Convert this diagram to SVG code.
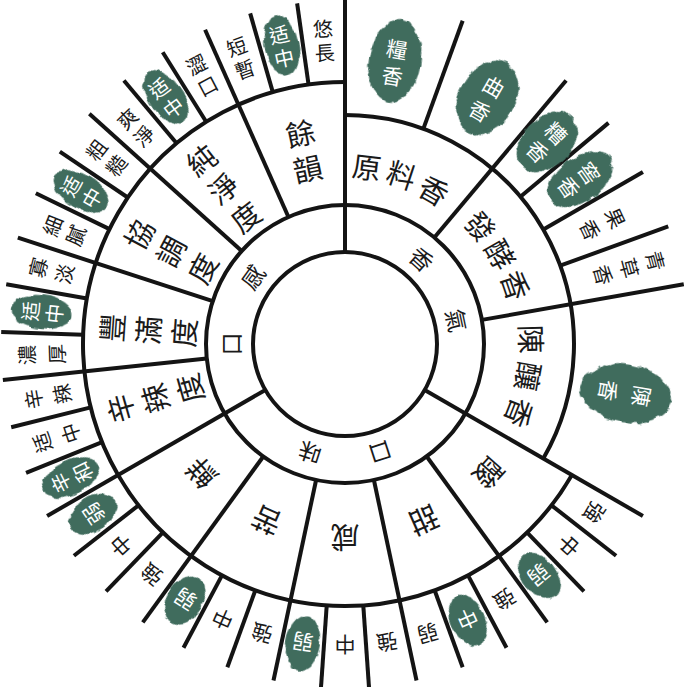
<svg xmlns="http://www.w3.org/2000/svg" width="684" height="687" viewBox="0 0 684 687">
<defs>
<style>
.ln{stroke:#141414;stroke-width:4;fill:none}
.t{font-family:"Noto Sans CJK TC","Noto Sans CJK SC",sans-serif;text-anchor:middle;dominant-baseline:central;fill:#1a1a1a}
.s2{font-size:23px}.s3{font-size:29px}.s4{font-size:20px}.s5{font-size:21px}
.g{fill:#3f6c5d;filter:url(#rough)}
.w{fill:#ffffff}
</style>
<filter id="rough" x="-30%" y="-30%" width="160%" height="160%">
<feTurbulence type="fractalNoise" baseFrequency="0.09" numOctaves="2" seed="4" result="n"/>
<feDisplacementMap in="SourceGraphic" in2="n" scale="7" xChannelSelector="R" yChannelSelector="G"/>
</filter>
</defs>
<rect width="684" height="687" fill="#fff"/>
<g id="connectors">
<circle class="ln" cx="345" cy="344" r="92"/>
<circle class="ln" cx="345" cy="344" r="139"/>
<path class="ln" d="M571.9 475 A262 262 0 1 1 345 82"/>
<path class="ln" d="M345 115 A229 229 0 0 1 543.3 458.5"/>
<line class="ln" x1="345" y1="252" x2="345" y2="0"/>
<line class="ln" x1="345" y1="252" x2="345" y2="0" transform="rotate(120 345 344)"/>
<line class="ln" x1="345" y1="252" x2="345" y2="0" transform="rotate(240 345 344)"/>
<g>
<line class="ln" x1="345" y1="205" x2="345" y2="0" transform="rotate(40 345 344)"/>
<line class="ln" x1="345" y1="205" x2="345" y2="0" transform="rotate(80 345 344)"/>
<line class="ln" x1="345" y1="205" x2="345" y2="0" transform="rotate(144 345 344)"/>
<line class="ln" x1="345" y1="205" x2="345" y2="0" transform="rotate(168 345 344)"/>
<line class="ln" x1="345" y1="205" x2="345" y2="0" transform="rotate(192 345 344)"/>
<line class="ln" x1="345" y1="205" x2="345" y2="0" transform="rotate(216 345 344)"/>
<line class="ln" x1="345" y1="205" x2="345" y2="0" transform="rotate(264 345 344)"/>
<line class="ln" x1="345" y1="205" x2="345" y2="0" transform="rotate(288 345 344)"/>
<line class="ln" x1="345" y1="205" x2="345" y2="0" transform="rotate(312 345 344)"/>
<line class="ln" x1="345" y1="205" x2="345" y2="0" transform="rotate(336 345 344)"/>
</g>
<g>
<line class="ln" x1="345" y1="115" x2="345" y2="0" transform="rotate(20 345 344)"/>
<line class="ln" x1="345" y1="115" x2="345" y2="0" transform="rotate(50 345 344)"/>
<line class="ln" x1="345" y1="115" x2="345" y2="0" transform="rotate(60 345 344)"/>
<line class="ln" x1="345" y1="115" x2="345" y2="0" transform="rotate(70 345 344)"/>
</g>
<g>
<line class="ln" x1="345" y1="82" x2="345" y2="0" transform="rotate(128 345 344)"/>
<line class="ln" x1="345" y1="82" x2="345" y2="0" transform="rotate(136 345 344)"/>
<line class="ln" x1="345" y1="82" x2="345" y2="0" transform="rotate(152 345 344)"/>
<line class="ln" x1="345" y1="82" x2="345" y2="0" transform="rotate(160 345 344)"/>
<line class="ln" x1="345" y1="82" x2="345" y2="0" transform="rotate(176 345 344)"/>
<line class="ln" x1="345" y1="82" x2="345" y2="0" transform="rotate(184 345 344)"/>
<line class="ln" x1="345" y1="82" x2="345" y2="0" transform="rotate(200 345 344)"/>
<line class="ln" x1="345" y1="82" x2="345" y2="0" transform="rotate(208 345 344)"/>
<line class="ln" x1="345" y1="82" x2="345" y2="0" transform="rotate(224 345 344)"/>
<line class="ln" x1="345" y1="82" x2="345" y2="0" transform="rotate(232 345 344)"/>
<line class="ln" x1="345" y1="82" x2="345" y2="0" transform="rotate(248 345 344)"/>
<line class="ln" x1="345" y1="82" x2="345" y2="0" transform="rotate(256 345 344)"/>
<line class="ln" x1="345" y1="82" x2="345" y2="0" transform="rotate(272 345 344)"/>
<line class="ln" x1="345" y1="82" x2="345" y2="0" transform="rotate(280 345 344)"/>
<line class="ln" x1="345" y1="82" x2="345" y2="0" transform="rotate(296 345 344)"/>
<line class="ln" x1="345" y1="82" x2="345" y2="0" transform="rotate(304 345 344)"/>
<line class="ln" x1="345" y1="82" x2="345" y2="0" transform="rotate(320 345 344)"/>
<line class="ln" x1="345" y1="82" x2="345" y2="0" transform="rotate(328 345 344)"/>
<line class="ln" x1="345" y1="82" x2="345" y2="0" transform="rotate(344 345 344)"/>
<line class="ln" x1="345" y1="82" x2="345" y2="0" transform="rotate(352 345 344)"/>
</g>
</g>

<g id="ring2">
<text class="t s2" transform="rotate(42 345 344)" x="345" y="229">香</text>
<text class="t s2" transform="rotate(78 345 344)" x="345" y="229">氣</text>
<text class="t s2" transform="rotate(162 345 344)" x="345" y="229">口</text>
<text class="t s2" transform="rotate(198 345 344)" x="345" y="229">味</text>
<text class="t s2" transform="rotate(270 345 344)" x="345" y="229">口</text>
<text class="t s2" transform="rotate(306 345 344)" x="345" y="229">感</text>
</g>

<g id="aroma-mid">
<text class="t s3" transform="rotate(7 345 344)" x="345" y="164">原</text>
<text class="t s3" transform="rotate(18.5 345 344)" x="345" y="164">料</text>
<text class="t s3" transform="rotate(30 345 344)" x="345" y="165">香</text>
<text class="t s3" transform="rotate(49 345 344)" x="345" y="163">發</text>
<text class="t s3" transform="rotate(60 345 344)" x="345" y="163">酵</text>
<text class="t s3" transform="rotate(71 345 344)" x="345" y="162">香</text>
<text class="t s3" transform="rotate(88.5 345 344)" x="345" y="156">陳</text>
<text class="t s3" transform="rotate(100 345 344)" x="345" y="156">釀</text>
<text class="t s3" transform="rotate(111.5 345 344)" x="345" y="155">香</text>
</g>

<g id="taste-mid">
<text class="t s3" transform="rotate(132 345 344)" x="345" y="149">酸</text>
<text class="t s3" transform="rotate(156 345 344)" x="345" y="149">甜</text>
<text class="t s3" transform="rotate(180 345 344)" x="345" y="149">咸</text>
<text class="t s3" transform="rotate(204 345 344)" x="345" y="149">苦</text>
<text class="t s3" transform="rotate(228 345 344)" x="345" y="149">鮮</text>
</g>

<g id="mouth-mid">
<g transform="rotate(348 345 344)"><text class="t s3" x="345" y="127">餘</text><text class="t s3" x="345" y="163">韻</text></g>
<g transform="rotate(322 345 344)"><text class="t s3" x="345" y="109">純</text><text class="t s3" x="345" y="145">淨</text><text class="t s3" x="345" y="181">度</text></g>
<g transform="rotate(298 345 344)"><text class="t s3" x="345" y="109">協</text><text class="t s3" x="345" y="145">調</text><text class="t s3" x="345" y="181">度</text></g>
<g transform="rotate(274 345 344)"><text class="t s3" x="345" y="109">豐</text><text class="t s3" x="345" y="145">滿</text><text class="t s3" x="345" y="181">度</text></g>
<g transform="rotate(254 345 344)"><text class="t s3" x="345" y="109">辛</text><text class="t s3" x="345" y="145">辣</text><text class="t s3" x="345" y="181">度</text></g>
</g>

<g id="aroma-outer">
<g transform="rotate(10 345 344)"><ellipse class="g" cx="345" cy="57" rx="26" ry="42"/><text class="t s5 w" x="345" y="44">糧</text><text class="t s5 w" x="345" y="71">香</text></g>
<g transform="rotate(30 345 344)"><ellipse class="g" cx="345" cy="60" rx="28" ry="40"/><text class="t s5 w" x="345" y="46">曲</text><text class="t s5 w" x="345" y="74">香</text></g>
<g transform="rotate(45 345 344)"><ellipse class="g" cx="345" cy="58" rx="24" ry="36"/><text class="t s5 w" x="345" y="45">糟</text><text class="t s5 w" x="345" y="71">香</text></g>
<g transform="rotate(55 345 344)"><ellipse class="g" cx="345" cy="57" rx="22" ry="37"/><text class="t s5 w" x="345" y="45">窖</text><text class="t s5 w" x="345" y="70">香</text></g>
<g transform="rotate(65 345 344)"><text class="t s4" x="345" y="45">果</text><text class="t s4" x="345" y="73">香</text></g>
<g transform="rotate(75 345 344)"><text class="t s4" x="345" y="22">青</text><text class="t s4" x="345" y="49">草</text><text class="t s4" x="345" y="76">香</text></g>
<g transform="rotate(100 345 344)"><ellipse class="g" cx="345" cy="59" rx="29" ry="46"/><text class="t s5 w" x="345" y="42">陳</text><text class="t s5 w" x="345" y="76">香</text></g>
</g>

<g id="mouth-outer">
<g transform="rotate(356 345 344)"><text class="t s4" x="345" y="27">悠</text><text class="t s4" x="345" y="51">長</text></g>
<g transform="rotate(348 345 344)"><ellipse class="g" cx="345" cy="39" rx="17" ry="31"/><text class="t s4 w" x="345" y="27">适</text><text class="t s4 w" x="345" y="51">中</text></g>
<g transform="rotate(340 345 344)"><text class="t s4" x="345" y="27">短</text><text class="t s4" x="345" y="51">暫</text></g>
<g transform="rotate(332 345 344)"><text class="t s4" x="345" y="27">澀</text><text class="t s4" x="345" y="51">口</text></g>
<g transform="rotate(324 345 344)"><ellipse class="g" cx="345" cy="39" rx="17" ry="31"/><text class="t s4 w" x="345" y="27">适</text><text class="t s4 w" x="345" y="51">中</text></g>
<g transform="rotate(316 345 344)"><text class="t s4" x="345" y="30">爽</text><text class="t s4" x="345" y="54">淨</text></g>
<g transform="rotate(308 345 344)"><text class="t s4" x="345" y="28">粗</text><text class="t s4" x="345" y="53">糙</text></g>
<g transform="rotate(300 345 344)"><ellipse class="g" cx="345" cy="39" rx="17" ry="31"/><text class="t s4 w" x="345" y="27">适</text><text class="t s4 w" x="345" y="51">中</text></g>
<g transform="rotate(292 345 344)"><text class="t s4" x="345" y="28">細</text><text class="t s4" x="345" y="53">膩</text></g>
<g transform="rotate(284 345 344)"><text class="t s4" x="345" y="27">寡</text><text class="t s4" x="345" y="54">淡</text></g>
<g transform="rotate(276 345 344)"><ellipse class="g" cx="345" cy="39" rx="17" ry="31"/><text class="t s4 w" x="345" y="27">适</text><text class="t s4 w" x="345" y="51">中</text></g>
<g transform="rotate(268 345 344)"><text class="t s4" x="345" y="25">濃</text><text class="t s4" x="345" y="55">厚</text></g>
<g transform="rotate(260 345 344)"><text class="t s4" x="345" y="27">辛</text><text class="t s4" x="345" y="56">辣</text></g>
<g transform="rotate(252 345 344)"><text class="t s4" x="345" y="25">适</text><text class="t s4" x="345" y="55">中</text></g>
<g transform="rotate(244 345 344)"><ellipse class="g" cx="345" cy="39" rx="17" ry="31"/><text class="t s4 w" x="345" y="27">辛</text><text class="t s4 w" x="345" y="51">和</text></g>
</g>

<g id="taste-outer">
<text class="t s5" transform="rotate(124 345 344)" x="345" y="42">強</text>
<text class="t s5" transform="rotate(132 345 344)" x="345" y="42">中</text>
<g transform="rotate(140 345 344)"><ellipse class="g" cx="345" cy="42" rx="17" ry="26"/><text class="t s5 w" x="345" y="42">弱</text></g>
<text class="t s5" transform="rotate(148 345 344)" x="345" y="42">強</text>
<g transform="rotate(156 345 344)"><ellipse class="g" cx="345" cy="42" rx="17" ry="27"/><text class="t s5 w" x="345" y="42">中</text></g>
<text class="t s5" transform="rotate(164 345 344)" x="345" y="42">弱</text>
<text class="t s5" transform="rotate(172 345 344)" x="345" y="42">強</text>
<text class="t s5" transform="rotate(180 345 344)" x="345" y="42">中</text>
<g transform="rotate(188 345 344)"><ellipse class="g" cx="345" cy="42" rx="17" ry="28"/><text class="t s5 w" x="345" y="42">弱</text></g>
<text class="t s5" transform="rotate(196 345 344)" x="345" y="42">強</text>
<text class="t s5" transform="rotate(204 345 344)" x="345" y="42">中</text>
<g transform="rotate(212 345 344)"><ellipse class="g" cx="345" cy="42" rx="18" ry="26"/><text class="t s5 w" x="345" y="42">弱</text></g>
<text class="t s5" transform="rotate(220 345 344)" x="345" y="42">強</text>
<text class="t s5" transform="rotate(228 345 344)" x="345" y="42">中</text>
<g transform="rotate(236 345 344)"><ellipse class="g" cx="345" cy="40" rx="17" ry="26"/><text class="t s5 w" x="345" y="40">弱</text></g>
</g>
</svg>
